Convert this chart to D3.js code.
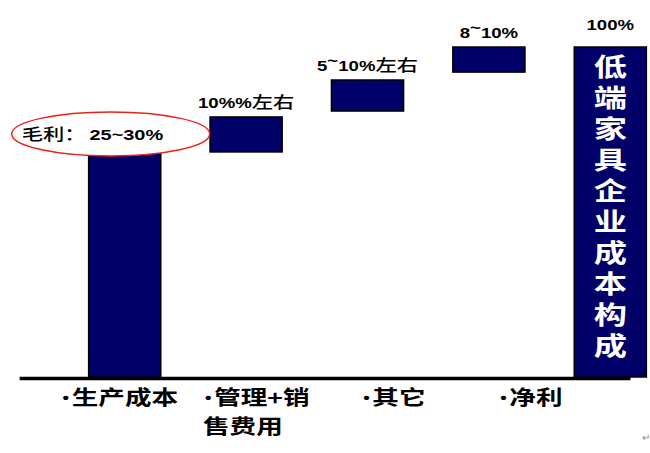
<!DOCTYPE html>
<html><head><meta charset="utf-8">
<script src="https://cdn.jsdelivr.net/npm/d3@7"></script>
<style>html,body{margin:0;padding:0;background:#fff;}</style>
</head><body>
<script>
// ---- data ----
const categories = ["生产成本", "管理+销售费用", "其它", "净利", "总计"];
const startValues = [0, 68.2, 80.6, 92.4, 0];
const endValues = [68.2, 78.8, 90, 100, 100];
const topLabels = [null, "10%%左右", "5~10%左右", "8~10%", "100%"];
const axisLabels = [["生产成本"], ["管理+销", "售费用"], ["其它"], ["净利"]];
const totalText = "低端家具企业成本构成";
const calloutText = ["毛利：", "25~30%"];

const W = 650, H = 453, SX = 1.33;
const svg = d3.select("body").append("svg").attr("width", W).attr("height", H)
  .style("background", "#fff");

const x = d3.scaleBand().domain(categories).range([64, 671]).paddingInner(0.406).paddingOuter(0.203);
const y = d3.scaleLinear().domain([0, 100]).range([377, 47]);
const lx = d3.scalePoint().domain(axisLabels.map(d => d.join(""))).range([119, 530]);
const bw = x.bandwidth();
const CJK = "'Noto Sans CJK SC', sans-serif";
const LAT = "'Liberation Sans', 'Noto Sans CJK SC', sans-serif";

function stretchedText(g, px, py) {
  return g.append("text").attr("transform", `translate(${px},${py}) scale(${SX},1)`);
}

// bars
svg.selectAll("rect.bar").data(categories).join("rect").attr("class", "bar")
  .attr("x", d => x(d)).attr("width", bw)
  .attr("y", (d, i) => y(endValues[i]))
  .attr("height", (d, i) => y(startValues[i]) - y(endValues[i]))
  .attr("fill", "#000068").attr("stroke", "#000").attr("stroke-width", 1.5);

// axis baseline
svg.append("line").attr("x1", x(categories[0]) - 69).attr("x2", x(categories[4]) + bw * 0.78)
  .attr("y1", y(0) + 1.5).attr("y2", y(0) + 1.5).attr("stroke", "#000").attr("stroke-width", 3.5);

// top labels
topLabels.forEach((t, i) => {
  if (!t) return;
  const cx = x(categories[i]) + bw / 2;
  const txt = stretchedText(svg, cx, y(endValues[i]) - (i === 4 ? 17 : 9))
    .attr("text-anchor", "middle").attr("font-family", LAT).attr("font-weight", "bold")
    .attr("font-size", 14).attr("fill", "#000");
  const parts = t.match(/[^~\u4e00-\u9fff]+|~|[\u4e00-\u9fff]+/g);
  let pending = 0;
  parts.forEach(p => {
    let ts;
    if (p === "~") {
      ts = txt.append("tspan").attr("dy", -5 + pending).text(p);
      pending = 5;
      return;
    } else if (/[\u4e00-\u9fff]/.test(p)) {
      ts = txt.append("tspan").attr("font-family", CJK).attr("font-weight", 500).attr("font-size", 16).text(p);
    } else {
      ts = txt.append("tspan").text(p);
    }
    if (pending) { ts.attr("dy", pending); pending = 0; }
  });
});

// vertical text inside total bar (single vertical run)
const tb = categories[4];
const barH = y(startValues[4]) - y(endValues[4]);
const yMid = (y(startValues[4]) + y(endValues[4])) / 2 - 3;
svg.append("text")
  .attr("transform", `translate(${x(tb) + bw / 2},${yMid}) scale(${SX},1)`)
  .attr("x", 0).attr("y", 0)
  .style("writing-mode", "vertical-rl")
  .attr("text-anchor", "middle")
  .attr("font-family", CJK).attr("font-weight", "bold").attr("font-size", 25)
  .attr("letter-spacing", barH * 0.094 - 25)
  .attr("fill", "#fff").text(totalText);

// callout ellipse
const ecx = x(categories[0]) + bw / 2 - 14, ecy = y(endValues[0]) - 18;
svg.append("ellipse").attr("cx", ecx).attr("cy", ecy).attr("rx", 99).attr("ry", 22)
  .attr("fill", "#fff").attr("stroke", "#e8231f").attr("stroke-width", 1.5);
const ct = stretchedText(svg, ecx - 89, ecy + 6).attr("font-size", 16).attr("fill", "#000");
ct.append("tspan").attr("font-family", CJK).attr("font-weight", 500).text(calloutText[0]);
ct.append("tspan").attr("font-family", LAT).attr("font-weight", "bold").attr("font-size", 15).attr("dx", 3).text(calloutText[1]);

// axis category labels
axisLabels.forEach(lines => {
  const key = lines.join("");
  const t = svg.append("text").attr("font-family", CJK).attr("font-weight", "bold")
    .attr("font-size", 20).attr("fill", "#000");
  t.append("tspan").attr("font-family", LAT).attr("font-size", 14).attr("dy", -2).text("•");
  t.append("tspan").attr("dy", 2).attr("dx", 2).text(lines[0]);
  const wdt = t.node().getComputedTextLength() * SX;
  const left = lx(key) - wdt / 2;
  t.attr("transform", `translate(${left},405) scale(${SX},1)`);
  lines.slice(1).forEach((ln, j) => {
    svg.append("text").attr("transform", `translate(${left - 2},${405 + 29 * (j + 1)}) scale(${SX},1)`)
      .attr("font-family", CJK).attr("font-weight", "bold").attr("font-size", 20)
      .attr("fill", "#000").text(ln);
  });
});

// small paragraph mark
svg.append("text").attr("x", 642).attr("y", 441).attr("font-size", 10).attr("fill", "#888")
  .attr("font-family", LAT).text("↵");
</script>
</body></html>
